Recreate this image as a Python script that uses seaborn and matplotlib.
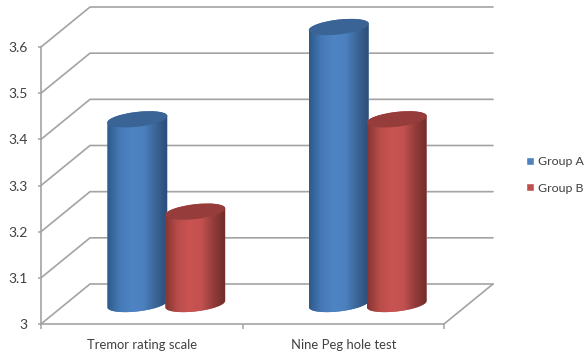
import numpy as np
import pandas as pd
import matplotlib
matplotlib.use("Agg")
import matplotlib.pyplot as plt
import seaborn as sns
from matplotlib.colors import LinearSegmentedColormap
from matplotlib.patches import Ellipse, PathPatch
from matplotlib.path import Path
from matplotlib.transforms import IdentityTransform

categories = ["Tremor rating scale", "Nine Peg hole test"]
group_a = [3.4, 3.6]
group_b = [3.2, 3.4]
groups = ["Group A", "Group B"]
y_ticks = [3, 3.1, 3.2, 3.3, 3.4, 3.5, 3.6]
y_labels = ["3", "3.1", "3.2", "3.3", "3.4", "3.5", "3.6"]

colors = {"Group A": "#4f81bd", "Group B": "#c0504d"}
shades = {"Group A": ["#2f5a8c", "#4579b6", "#4f84c4", "#4c80bf", "#3b6596", "#2a4c78"],
          "Group B": ["#843432", "#b84c49", "#ca5451", "#c25150", "#923c3a", "#702c2a"]}
tops = {"Group A": "#3a6496", "Group B": "#963c3a"}
grid_col = "#a3a3a3"
text_col = "#404040"

sns.set_theme(style="white")
plt.rcParams["font.family"] = ["Lato", "DejaVu Sans"]

df = pd.DataFrame({
    "test": categories * 2,
    "group": [groups[0]] * 2 + [groups[1]] * 2,
    "score": group_a + group_b,
})

W, H = 584, 356
depth_x, depth_y = 49, 40
fig = plt.figure(figsize=(W / 100, H / 100), dpi=100)


def box(left, top, right, bottom):
    return [left / W, 1 - bottom / H, (right - left) / W, (bottom - top) / H]


# front plane holds the axes, the bars sit half way back
# bar axes gets some room above and below so the round ends are not cut
room = 14
per_px = 0.6 / 277
bar_ylim = (3 - room * per_px, 3.6 + room * per_px)
ax = fig.add_axes(box(41, 47, 444, 324))
ax_bars = fig.add_axes(box(41 + depth_x / 2, 47 - depth_y / 2 - room, 444 + depth_x / 2, 324 - depth_y / 2 + room))
ax_bars.patch.set_alpha(0)

ax.set_xlim(-0.5, 1.5)
ax.set_ylim(3, 3.6)

ax.set_xticks([-0.5, 0.5, 1.5], minor=True)
ax.set_xticks([0, 1])
ax.set_xticklabels(categories, fontsize=9.4, color=text_col)
ax.set_yticks(y_ticks)
ax.set_yticklabels(y_labels, fontsize=10, color=text_col)
ax.tick_params(axis="x", which="major", length=0, pad=10.5)
ax.tick_params(axis="x", which="minor", bottom=True, length=3.5, color=grid_col, width=1.1)
ax.tick_params(axis="y", left=True, length=2.5, color=grid_col, width=1.1, pad=7)
sns.despine(ax=ax, top=True, right=True)
for s in ("left", "bottom"):
    ax.spines[s].set_color(grid_col)
    ax.spines[s].set_linewidth(1.2)

px = IdentityTransform()
for v in y_ticks:
    x0, y0 = ax.transData.transform((-0.5, v))
    ax.plot([x0, x0 + depth_x, x0 + 452], [y0, y0 + depth_y, y0 + depth_y],
            color=grid_col, lw=1.2, transform=px, clip_on=False)
x0, y0 = ax.transData.transform((1.5, 3))
ax.plot([x0, x0 + depth_x], [y0, y0 + depth_y], color=grid_col, lw=1.2, transform=px, clip_on=False)

sns.barplot(data=df, x="test", y="score", hue="group", order=categories, hue_order=groups,
            palette=colors, saturation=1, width=0.575, gap=0, ax=ax_bars)
ax_bars.set_xlim(-0.5, 1.5)
ax_bars.set_ylim(*bar_ylim)
ax_bars.axis("off")

handles, labels = ax_bars.get_legend_handles_labels()
ax_bars.get_legend().remove()

tilt = np.radians(6.6)
semi_a, semi_b = 30.2, 7.4


def ellipse_pts(cx, cy, t):
    return np.column_stack([
        cx + semi_a * np.cos(t) * np.cos(tilt) - semi_b * np.sin(t) * np.sin(tilt),
        cy + semi_a * np.cos(t) * np.sin(tilt) + semi_b * np.sin(t) * np.cos(tilt),
    ])


order = 2
for group, container in zip(groups, ax_bars.containers):
    cmap = LinearSegmentedColormap.from_list(group, shades[group])
    for bar in container:
        left, width, h = bar.get_x(), bar.get_width(), bar.get_height()
        cx, top_y = ax_bars.transData.transform((left + width / 2, h))
        _, base_y = ax_bars.transData.transform((left, 3))
        outline = np.vstack([ellipse_pts(cx, base_y, np.linspace(np.pi, 2 * np.pi, 40)),
                             ellipse_pts(cx, top_y, np.linspace(0, np.pi, 40))])
        clip = PathPatch(Path(np.vstack([outline, outline[:1]])), transform=px)
        bar.set_clip_path(clip)
        bar.set_zorder(order)
        # image spans the cylinder width, which is a little wider than the dodge step
        im = ax_bars.imshow(np.linspace(0, 1, 120)[None, :], cmap=cmap, aspect="auto", zorder=order + 1,
                            extent=(left - 0.006, left + width + 0.006, bar_ylim[0], h + 0.02),
                            interpolation="bilinear")
        im.set_clip_path(clip)
        cap = Ellipse((cx, top_y), 2 * semi_a, 2 * semi_b, angle=np.degrees(tilt), transform=px,
                      facecolor=tops[group], edgecolor="none", zorder=order + 2, clip_on=False)
        ax_bars.add_patch(cap)
        order += 3

ax_bars.set_xlim(-0.5, 1.5)
ax_bars.set_ylim(*bar_ylim)

fig.legend(handles, labels, loc="center left", bbox_to_anchor=(526 / W, 1 - 175 / H), frameon=False,
           fontsize=8.9, labelcolor=text_col, handlelength=0.64, handleheight=0.64, handletextpad=0.3,
           labelspacing=1.25, borderpad=0, borderaxespad=0)

fig.savefig("out.png", dpi=100)
